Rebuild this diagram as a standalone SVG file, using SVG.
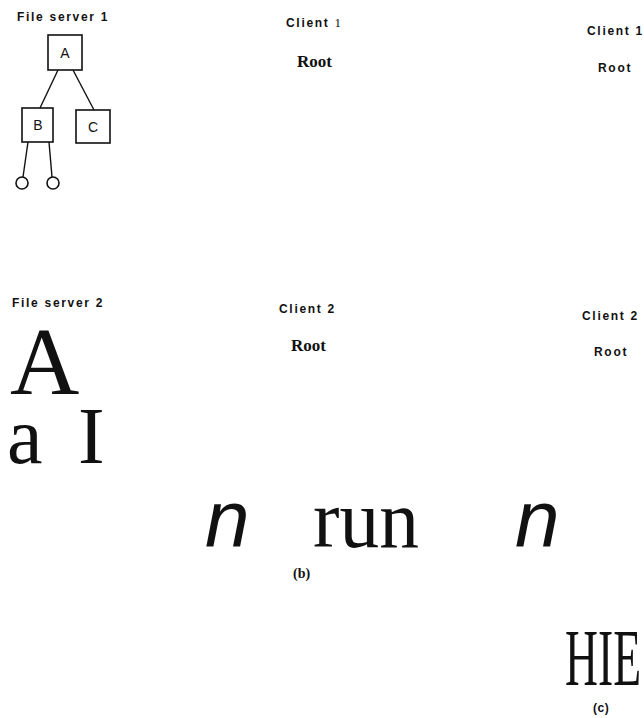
<svg xmlns="http://www.w3.org/2000/svg" width="644" height="718" viewBox="0 0 644 718">
<style>
.lab{font-family:"Liberation Sans",Arial,sans-serif;font-weight:bold;font-size:12px;letter-spacing:1.7px;fill:#111}
.root{font-family:"Liberation Serif","Times New Roman",serif;font-weight:bold;font-size:17px;fill:#111}
.big{font-family:"Liberation Serif","Times New Roman",serif;fill:#111}
.bigI{font-family:"Liberation Sans",Arial,sans-serif;font-style:italic;fill:#111}
.box{fill:none;stroke:#111;stroke-width:1.6}
.edge{fill:none;stroke:#111;stroke-width:1.4}
.nl{font-family:"Liberation Sans",Arial,sans-serif;font-size:14px;fill:#111;text-anchor:middle}
</style>
<text class="lab" x="17" y="21">File server 1</text>
<g id="connectors">
<line class="edge" x1="58" y1="70" x2="40" y2="108"/>
<line class="edge" x1="73" y1="70" x2="94" y2="110"/>
<line class="edge" x1="28" y1="142" x2="23" y2="177"/>
<line class="edge" x1="49" y1="142" x2="52" y2="177"/>
</g>
<g id="nodeA"><rect class="box" x="48" y="35" width="34" height="35"/><text class="nl" x="65" y="58">A</text></g>
<g id="nodeB"><rect class="box" x="22" y="108" width="31" height="34"/><text class="nl" x="38" y="130">B</text></g>
<g id="nodeC"><rect class="box" x="76" y="110" width="34" height="33"/><text class="nl" x="93" y="132">C</text></g>
<g id="leaf1"><circle class="box" cx="22" cy="183" r="6"/></g>
<g id="leaf2"><circle class="box" cx="53" cy="183" r="6"/></g>

<text class="lab" x="286" y="27">Client <tspan style="font-family:'Liberation Serif',serif;font-weight:normal;font-size:13px;fill:#111">1</tspan></text>
<text class="root" x="297" y="67">Root</text>
<text class="lab" x="587" y="35">Client 1</text>
<text class="lab" x="598" y="72">Root</text>

<text class="lab" x="12" y="307">File server 2</text>
<text class="big" x="10" y="394" font-size="96">A</text>
<text class="big" x="7" y="463" font-size="80">a<tspan x="78">I</tspan></text>

<text class="lab" x="279" y="313">Client 2</text>
<text class="root" x="291" y="351">Root</text>
<text class="lab" x="582" y="320">Client 2</text>
<text class="lab" x="594" y="356">Root</text>

<text class="bigI" x="205" y="547" font-size="80">n</text>
<text class="big" x="313" y="547" font-size="82" textLength="106" lengthAdjust="spacingAndGlyphs">run</text>
<text class="bigI" x="515" y="547" font-size="80">n</text>
<text class="root" x="293" y="578" style="font-size:14px">(b)</text>

<text class="big" x="565" y="685" font-size="80" textLength="76" lengthAdjust="spacingAndGlyphs">HIE</text>
<text class="lab" x="593" y="712" style="letter-spacing:0.5px">(c)</text>
</svg>
